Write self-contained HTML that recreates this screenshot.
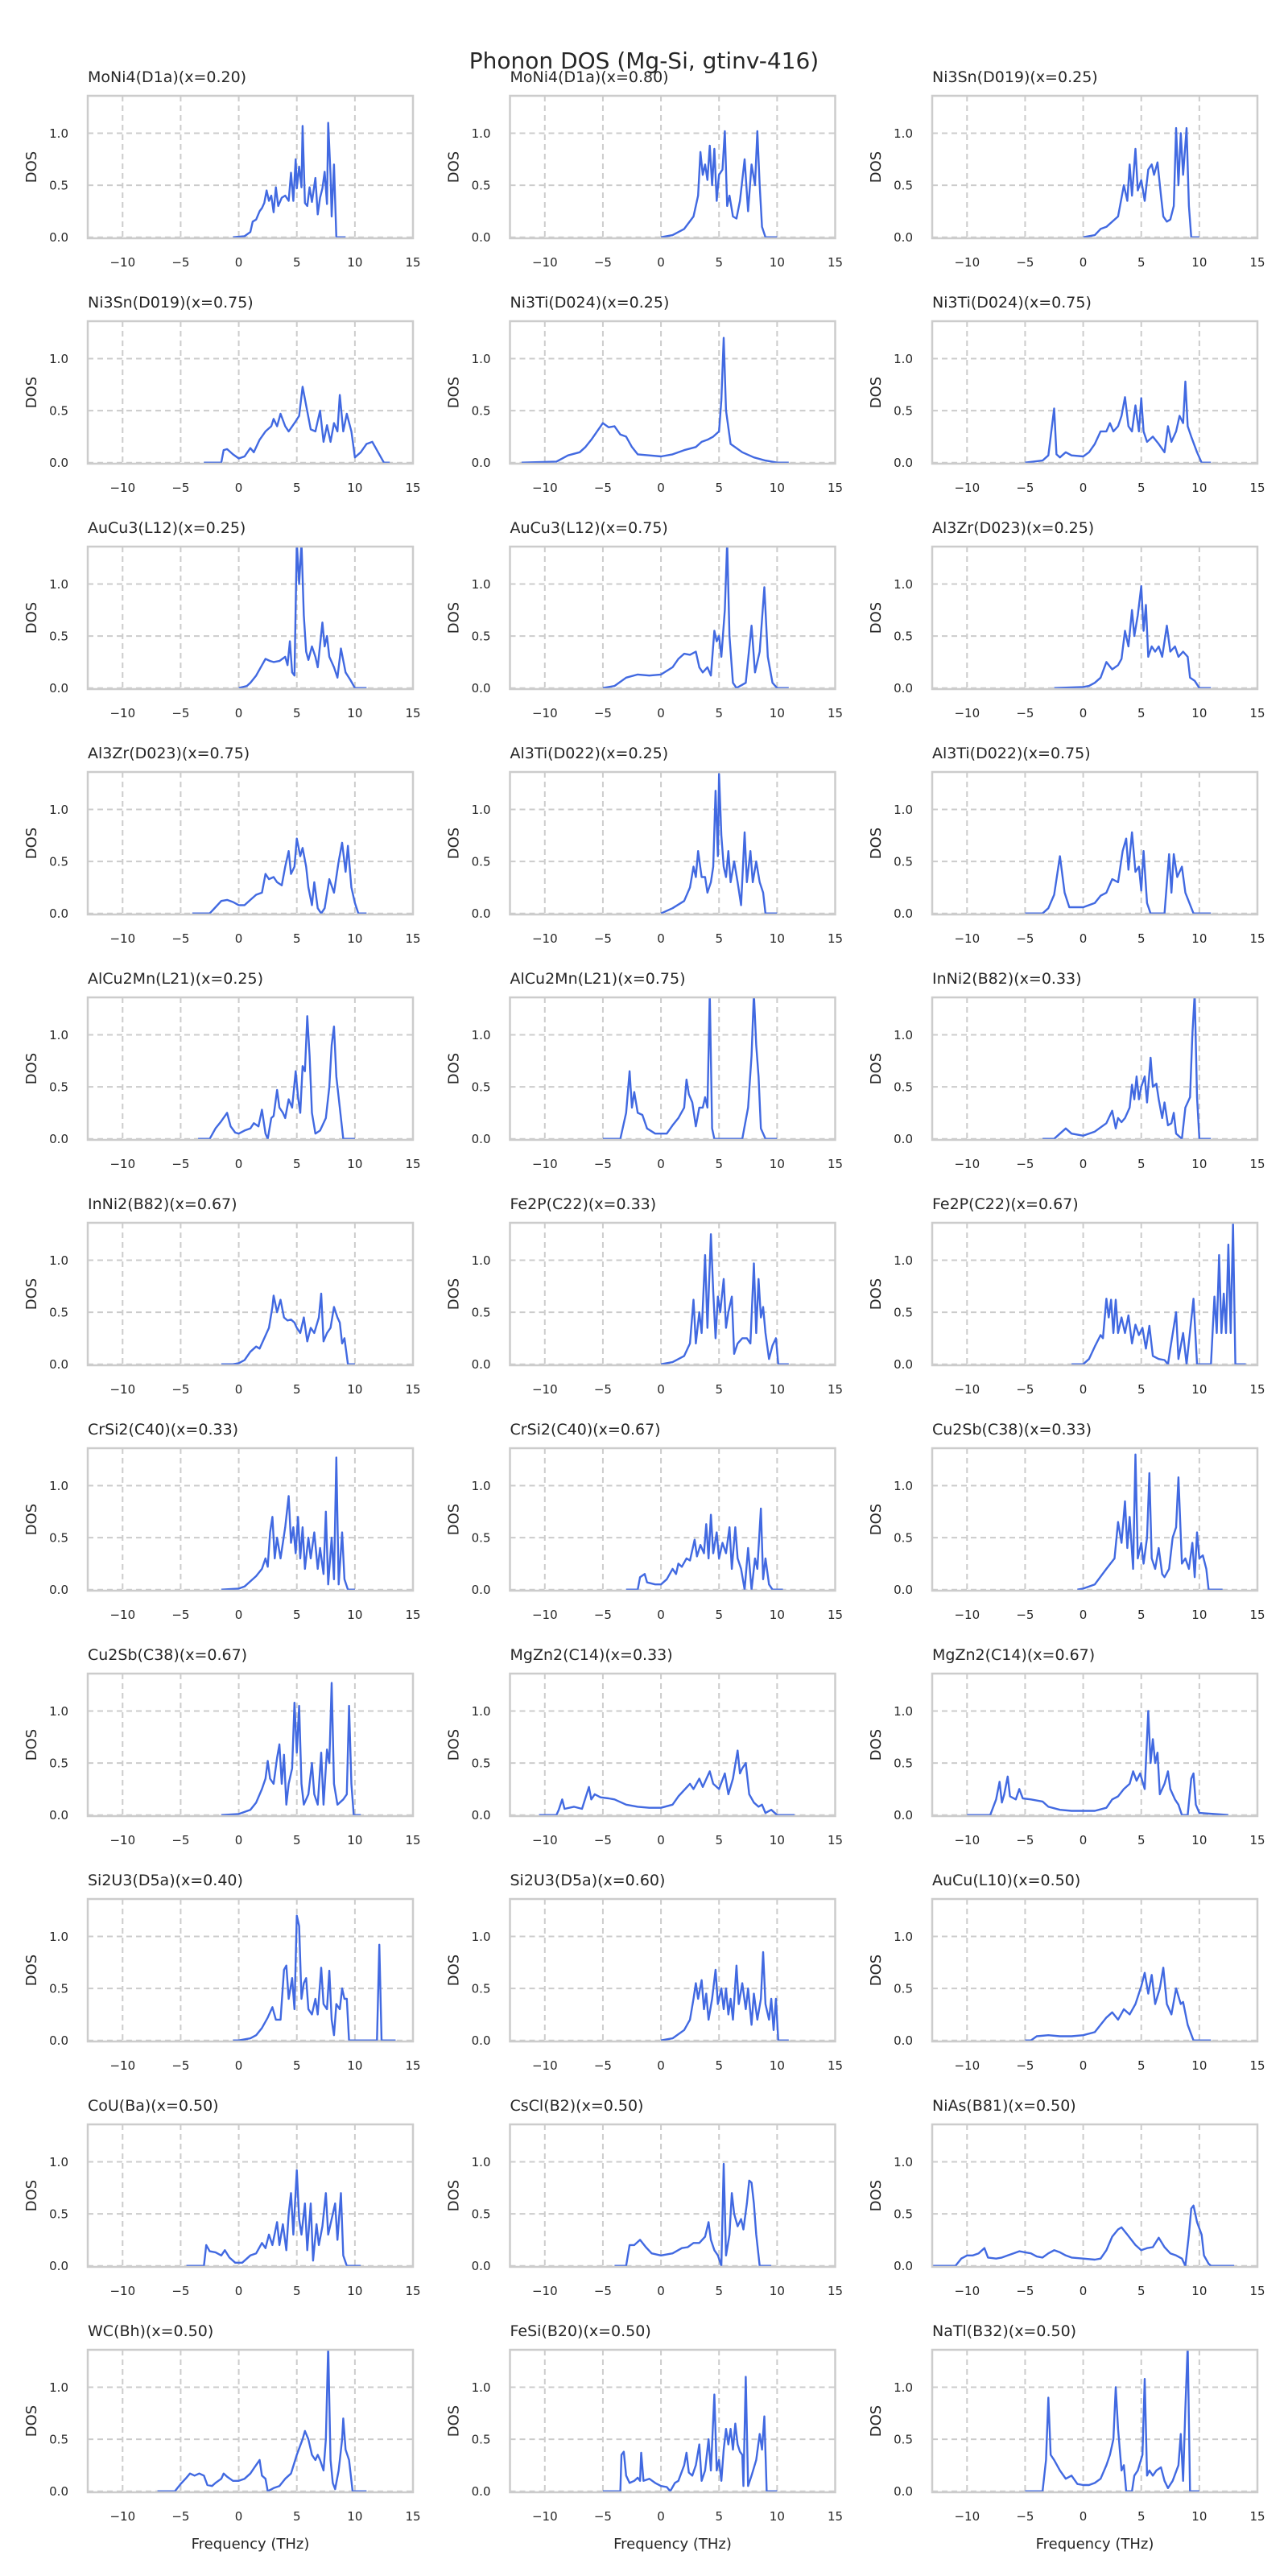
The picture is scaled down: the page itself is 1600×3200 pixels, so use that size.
<!DOCTYPE html>
<html>
<head>
<meta charset="utf-8">
<style>
  html,body{margin:0;padding:0;background:#fff;}
  svg{display:block;}
  text{font-family:"DejaVu Sans","Liberation Sans",sans-serif;fill:#262626;}
</style>
</head>
<body>
<svg id="fig" width="1600" height="3200" viewBox="0 0 1600 3200" xmlns="http://www.w3.org/2000/svg">
  <rect x="0" y="0" width="1600" height="3200" fill="#ffffff"/>
  <text x="800" y="85" font-size="28" text-anchor="middle">Phonon DOS (Mg-Si, gtinv-416)</text>
</svg>
<script>
const titles = ["MoNi4(D1a)(x=0.20)","MoNi4(D1a)(x=0.80)","Ni3Sn(D019)(x=0.25)","Ni3Sn(D019)(x=0.75)","Ni3Ti(D024)(x=0.25)","Ni3Ti(D024)(x=0.75)","AuCu3(L12)(x=0.25)","AuCu3(L12)(x=0.75)","Al3Zr(D023)(x=0.25)","Al3Zr(D023)(x=0.75)","Al3Ti(D022)(x=0.25)","Al3Ti(D022)(x=0.75)","AlCu2Mn(L21)(x=0.25)","AlCu2Mn(L21)(x=0.75)","InNi2(B82)(x=0.33)","InNi2(B82)(x=0.67)","Fe2P(C22)(x=0.33)","Fe2P(C22)(x=0.67)","CrSi2(C40)(x=0.33)","CrSi2(C40)(x=0.67)","Cu2Sb(C38)(x=0.33)","Cu2Sb(C38)(x=0.67)","MgZn2(C14)(x=0.33)","MgZn2(C14)(x=0.67)","Si2U3(D5a)(x=0.40)","Si2U3(D5a)(x=0.60)","AuCu(L10)(x=0.50)","CoU(Ba)(x=0.50)","CsCl(B2)(x=0.50)","NiAs(B81)(x=0.50)","WC(Bh)(x=0.50)","FeSi(B20)(x=0.50)","NaTl(B32)(x=0.50)"];
const xTicks = [-10,-5,0,5,10,15];
const xTickLabels = ["\u221210","\u22125","0","5","10","15"];
const yTicks = [0,0.5,1.0];
const yTickLabels = ["0.0","0.5","1.0"];
const xDomain = [-13,15];
const yDomain = [-0.01,1.36];

const p00=[[-0.5,0],[0.5,0.01],[1.0,0.05],[1.2,0.15],[1.5,0.17],[1.8,0.25],[2.0,0.28],[2.2,0.33],[2.4,0.45],[2.6,0.35],[2.8,0.40],[3.0,0.24],[3.2,0.48],[3.4,0.3],[3.7,0.38],[4.0,0.40],[4.3,0.35],[4.5,0.62],[4.7,0.35],[4.9,0.75],[5.0,0.47],[5.2,0.68],[5.4,0.48],[5.5,1.07],[5.7,0.33],[5.9,0.30],[6.1,0.48],[6.3,0.34],[6.6,0.57],[6.8,0.22],[7.0,0.38],[7.2,0.47],[7.4,0.63],[7.6,0.32],[7.7,1.1],[7.9,0.6],[8.0,0.2],[8.2,0.7],[8.4,0],[9.2,0]];
const p01=[[0,0],[1,0.02],[2,0.08],[2.8,0.2],[3.2,0.4],[3.4,0.82],[3.6,0.6],[3.8,0.7],[4.0,0.55],[4.2,0.88],[4.4,0.5],[4.6,0.85],[4.8,0.35],[5.0,0.6],[5.3,0.65],[5.5,1.02],[5.7,0.3],[5.9,0.4],[6.2,0.2],[6.5,0.18],[6.8,0.35],[7.2,0.75],[7.5,0.25],[7.8,0.7],[8.1,0.5],[8.3,1.02],[8.5,0.5],[8.7,0.1],[9.0,0],[10,0]];
const p02=[[0,0],[1,0.02],[1.5,0.08],[2,0.1],[3,0.2],[3.5,0.5],[3.8,0.35],[4.0,0.7],[4.2,0.4],[4.5,0.85],[4.7,0.45],[5.0,0.55],[5.3,0.35],[5.6,0.65],[5.9,0.7],[6.1,0.6],[6.4,0.72],[6.7,0.4],[6.9,0.2],[7.2,0.15],[7.5,0.17],[7.8,0.3],[8.0,1.05],[8.2,0.5],[8.4,1.0],[8.6,0.6],[8.9,1.05],[9.1,0.3],[9.3,0],[10,0]];
const p03=[[-3,0],[-1.5,0],[-1.3,0.12],[-1.0,0.13],[-0.5,0.08],[0,0.04],[0.5,0.06],[1.0,0.14],[1.3,0.1],[1.8,0.22],[2.3,0.3],[2.8,0.35],[3.0,0.42],[3.3,0.35],[3.6,0.47],[4.0,0.35],[4.3,0.3],[4.8,0.38],[5.2,0.45],[5.5,0.73],[5.8,0.55],[6.2,0.32],[6.6,0.3],[7.0,0.5],[7.3,0.2],[7.6,0.36],[7.9,0.2],[8.2,0.38],[8.5,0.3],[8.7,0.65],[9.0,0.3],[9.3,0.47],[9.7,0.3],[10.0,0.05],[10.5,0.1],[11,0.18],[11.5,0.2],[12,0.1],[12.5,0],[13,0]];
const p04=[[-12,0],[-9,0.01],[-8,0.07],[-7,0.1],[-6.5,0.15],[-6,0.22],[-5.5,0.3],[-5,0.38],[-4.5,0.34],[-4,0.35],[-3.5,0.27],[-3,0.25],[-2.5,0.15],[-2,0.08],[-1,0.07],[0,0.06],[1,0.08],[2,0.12],[3,0.15],[3.5,0.2],[4,0.22],[4.5,0.25],[5,0.3],[5.2,0.6],[5.4,1.2],[5.6,0.5],[6,0.18],[7,0.1],[8,0.05],[9,0.02],[10,0],[11,0]];
const p05=[[-5,0],[-3.5,0.02],[-3,0.07],[-2.5,0.52],[-2.3,0.08],[-2,0.05],[-1.5,0.1],[-1,0.07],[0,0.06],[0.5,0.1],[1,0.18],[1.5,0.3],[2,0.3],[2.3,0.38],[2.6,0.3],[3,0.35],[3.3,0.45],[3.6,0.63],[3.9,0.35],[4.2,0.3],[4.5,0.55],[4.8,0.3],[5,0.62],[5.2,0.3],[5.5,0.2],[6,0.25],[6.5,0.18],[7,0.1],[7.3,0.35],[7.6,0.2],[8,0.3],[8.3,0.45],[8.6,0.38],[8.8,0.78],[9,0.35],[9.3,0.25],[9.8,0.1],[10.2,0],[11,0]];
const p06=[[0,0],[0.7,0.02],[1,0.05],[1.5,0.12],[2.0,0.22],[2.3,0.28],[2.7,0.26],[3,0.25],[3.5,0.26],[4,0.3],[4.2,0.22],[4.4,0.45],[4.6,0.15],[4.8,0.12],[5.0,1.4],[5.2,1.0],[5.4,1.4],[5.6,0.7],[5.8,0.35],[6.0,0.27],[6.3,0.4],[6.6,0.3],[6.8,0.2],[7.2,0.63],[7.4,0.4],[7.6,0.5],[7.8,0.3],[8.2,0.2],[8.5,0.1],[8.8,0.38],[9.2,0.15],[9.6,0.08],[10,0],[11,0]];
const p07=[[-5,0],[-4,0.02],[-3,0.1],[-2,0.13],[-1,0.12],[0,0.13],[1,0.2],[1.5,0.28],[2,0.33],[2.5,0.32],[3,0.35],[3.3,0.2],[3.6,0.15],[4,0.2],[4.3,0.12],[4.6,0.55],[4.8,0.45],[5,0.5],[5.2,0.3],[5.5,0.75],[5.7,1.4],[5.9,0.5],[6.2,0.05],[6.5,0],[7.3,0.05],[7.8,0.6],[8.1,0.15],[8.5,0.35],[8.9,0.97],[9.2,0.3],[9.6,0.05],[10,0],[11,0]];
const p08=[[-2.5,0],[0,0.01],[0.5,0.02],[1,0.05],[1.5,0.1],[2,0.25],[2.5,0.18],[3,0.22],[3.3,0.28],[3.6,0.55],[3.9,0.4],[4.2,0.75],[4.4,0.5],[4.7,0.7],[5,0.98],[5.2,0.55],[5.4,0.8],[5.6,0.3],[5.9,0.4],[6.2,0.35],[6.5,0.4],[6.8,0.3],[7.2,0.6],[7.5,0.35],[7.9,0.4],[8.2,0.3],[8.6,0.35],[9,0.3],[9.2,0.1],[9.6,0.07],[10,0],[11,0]];
const p09=[[-4,0],[-2.5,0],[-2,0.06],[-1.5,0.12],[-1,0.13],[-0.5,0.11],[0,0.08],[0.5,0.08],[1,0.13],[1.5,0.18],[2,0.2],[2.3,0.38],[2.6,0.33],[3,0.35],[3.3,0.3],[3.7,0.27],[4,0.45],[4.3,0.6],[4.5,0.38],[4.8,0.45],[5,0.72],[5.3,0.55],[5.5,0.63],[5.8,0.45],[6,0.25],[6.3,0.08],[6.5,0.3],[6.8,0.05],[7.1,0],[7.4,0.05],[7.8,0.33],[8.2,0.2],[8.6,0.5],[8.9,0.68],[9.2,0.4],[9.4,0.65],[9.7,0.25],[10,0.1],[10.3,0],[11,0]];
const p10=[[0,0],[1,0.05],[2,0.12],[2.5,0.25],[2.8,0.45],[3,0.35],[3.2,0.6],[3.5,0.35],[3.8,0.35],[4,0.2],[4.3,0.3],[4.5,0.45],[4.7,1.18],[4.9,0.55],[5,1.34],[5.2,0.75],[5.4,0.45],[5.6,0.35],[5.8,0.6],[6,0.3],[6.3,0.5],[6.6,0.3],[6.9,0.08],[7.2,0.78],[7.4,0.3],[7.7,0.6],[7.9,0.3],[8.2,0.5],[8.5,0.3],[8.8,0.2],[9,0],[10,0]];
const p11=[[-5,0],[-3.5,0],[-3,0.05],[-2.5,0.18],[-2,0.55],[-1.6,0.2],[-1.2,0.06],[0,0.06],[1,0.1],[1.5,0.17],[2,0.2],[2.5,0.33],[3,0.3],[3.4,0.6],[3.7,0.72],[3.9,0.42],[4.2,0.78],[4.5,0.4],[4.8,0.45],[5,0.22],[5.2,0.6],[5.5,0.1],[5.8,0],[7,0],[7.4,0.57],[7.6,0.2],[7.8,0.57],[8.1,0.35],[8.5,0.45],[8.8,0.2],[9.5,0],[10,0],[11,0]];
const p12=[[-3.5,0],[-2.5,0],[-2,0.1],[-1.5,0.17],[-1,0.25],[-0.7,0.12],[-0.3,0.06],[0,0.05],[0.5,0.08],[1,0.1],[1.3,0.15],[1.7,0.12],[2,0.28],[2.3,0.05],[2.5,0],[2.8,0.2],[3,0.22],[3.3,0.47],[3.5,0.3],[3.8,0.25],[4,0.2],[4.3,0.38],[4.6,0.3],[4.9,0.65],[5.1,0.4],[5.3,0.25],[5.5,0.7],[5.7,0.65],[5.9,1.18],[6.1,0.8],[6.3,0.25],[6.6,0.05],[7,0.08],[7.5,0.2],[7.8,0.5],[8.0,0.9],[8.2,1.08],[8.4,0.6],[8.7,0.3],[9,0],[10,0]];
const p13=[[-5,0],[-3.5,0],[-3,0.25],[-2.7,0.65],[-2.5,0.3],[-2.3,0.45],[-2,0.25],[-1.6,0.23],[-1.2,0.1],[-0.5,0.05],[0.5,0.05],[1,0.13],[1.5,0.2],[2,0.3],[2.2,0.57],[2.4,0.43],[2.7,0.35],[3,0.12],[3.3,0.3],[3.6,0.3],[3.8,0.4],[4.0,0.3],[4.2,1.4],[4.4,0.1],[4.6,0],[7,0],[7.5,0.3],[7.8,0.8],[8.0,1.4],[8.2,0.9],[8.4,0.6],[8.6,0.1],[9,0],[10,0]];
const p14=[[-3.5,0],[-2.5,0],[-2,0.05],[-1.5,0.1],[-1,0.05],[0,0.03],[1,0.07],[2,0.15],[2.5,0.27],[2.8,0.1],[3,0.2],[3.3,0.16],[3.6,0.2],[4,0.3],[4.2,0.52],[4.4,0.38],[4.6,0.6],[4.8,0.38],[5,0.5],[5.3,0.6],[5.5,0.35],[5.8,0.78],[6,0.5],[6.3,0.53],[6.5,0.38],[6.8,0.2],[7,0.35],[7.3,0.13],[7.6,0.15],[7.8,0.25],[8,0.05],[8.5,0],[8.8,0.3],[9.2,0.4],[9.4,1.0],[9.6,1.4],[9.8,0.4],[10,0],[11,0]];
const p15=[[-1.5,0],[-0.5,0],[0,0.01],[0.5,0.04],[1,0.12],[1.5,0.17],[1.8,0.15],[2.2,0.25],[2.6,0.35],[2.9,0.55],[3.0,0.66],[3.3,0.5],[3.6,0.62],[3.9,0.45],[4.2,0.42],[4.5,0.43],[4.8,0.4],[5,0.35],[5.3,0.3],[5.6,0.45],[5.9,0.22],[6.2,0.35],[6.5,0.3],[6.9,0.45],[7.1,0.68],[7.3,0.22],[7.6,0.3],[7.9,0.35],[8.2,0.55],[8.5,0.45],[8.7,0.4],[8.9,0.2],[9.1,0.25],[9.4,0],[10,0]];
const p16=[[0,0],[1,0.02],[2,0.08],[2.5,0.2],[2.8,0.62],[3,0.2],[3.3,0.5],[3.5,0.3],[3.8,1.05],[4,0.35],[4.3,1.25],[4.5,0.7],[4.7,0.25],[4.9,0.65],[5.1,0.5],[5.4,0.82],[5.6,0.35],[5.8,0.5],[6.1,0.65],[6.3,0.1],[6.6,0.2],[7,0.25],[7.4,0.25],[7.7,0.2],[8,0.97],[8.2,0.3],[8.4,0.82],[8.6,0.45],[8.8,0.55],[9,0.3],[9.3,0.05],[9.6,0.18],[9.9,0.25],[10.1,0],[11,0]];
const p17=[[-1,0],[0,0],[0.5,0.05],[1,0.17],[1.5,0.28],[1.7,0.25],[2.0,0.63],[2.2,0.45],[2.4,0.62],[2.6,0.3],[2.8,0.62],[3,0.3],[3.3,0.45],[3.6,0.3],[3.9,0.47],[4.2,0.2],[4.5,0.38],[4.8,0.28],[5.1,0.35],[5.4,0.15],[5.7,0.37],[6,0.08],[6.5,0.05],[7,0.04],[7.3,0],[7.5,0.15],[8,0.5],[8.2,0.05],[8.6,0.3],[8.9,0],[9.5,0.63],[9.8,0],[11,0],[11.3,0.65],[11.5,0.3],[11.7,1.05],[11.9,0.3],[12.1,0.68],[12.3,0.3],[12.5,1.15],[12.7,0.3],[12.9,1.35],[13.1,0],[14,0]];
const p18=[[-1.5,0],[0,0.01],[0.5,0.03],[1,0.08],[1.5,0.13],[2,0.2],[2.3,0.3],[2.5,0.22],[2.7,0.55],[2.9,0.7],[3.1,0.3],[3.3,0.5],[3.6,0.3],[4,0.6],[4.3,0.9],[4.5,0.45],[4.7,0.6],[4.9,0.35],[5.1,0.7],[5.3,0.3],[5.5,0.6],[5.7,0.2],[6,0.5],[6.2,0.3],[6.5,0.55],[6.8,0.2],[7.0,0.4],[7.3,0.15],[7.5,0.75],[7.7,0.05],[8,0.5],[8.2,0.1],[8.4,1.27],[8.6,0.05],[8.9,0.55],[9.1,0.1],[9.4,0],[10,0]];
const p19=[[-3,0],[-2,0],[-1.8,0.12],[-1.4,0.15],[-1.2,0.07],[-0.5,0.05],[0,0.05],[0.5,0.1],[1,0.2],[1.3,0.15],[1.5,0.25],[1.8,0.22],[2.2,0.3],[2.5,0.28],[2.9,0.48],[3.1,0.32],[3.4,0.43],[3.7,0.35],[3.9,0.63],[4.1,0.3],[4.3,0.72],[4.5,0.35],[4.8,0.55],[5,0.3],[5.3,0.45],[5.6,0.35],[5.9,0.6],[6.1,0.2],[6.4,0.6],[6.6,0.3],[6.9,0.2],[7.2,0],[7.5,0.4],[7.8,0],[8.1,0.3],[8.3,0.2],[8.6,0.78],[8.8,0.1],[9.0,0.3],[9.3,0.05],[9.6,0],[10.5,0]];
const p20=[[-0.5,0],[0,0.01],[1,0.05],[2,0.2],[2.7,0.3],[3,0.65],[3.3,0.45],[3.6,0.85],[3.8,0.4],[4,0.7],[4.3,0.2],[4.5,1.3],[4.7,0.3],[5,0.45],[5.2,0.25],[5.5,0.5],[5.7,1.12],[5.9,0.3],[6.2,0.2],[6.5,0.4],[6.8,0.15],[7,0.12],[7.4,0.2],[7.7,0.5],[8,0.6],[8.2,1.08],[8.5,0.25],[8.8,0.3],[9.1,0.2],[9.4,0.45],[9.6,0.12],[9.8,0.55],[10,0.3],[10.3,0.33],[10.6,0.2],[10.8,0],[12,0]];
const p21=[[-1.5,0],[0,0.01],[1,0.05],[1.5,0.12],[2,0.25],[2.3,0.35],[2.5,0.52],[2.7,0.35],[3,0.3],[3.3,0.55],[3.5,0.68],[3.7,0.3],[3.9,0.58],[4.1,0.1],[4.3,0.3],[4.6,0.45],[4.8,1.08],[5,0.6],[5.2,1.05],[5.4,0.3],[5.6,0.1],[6,0.2],[6.3,0.5],[6.5,0.2],[6.8,0.1],[7.1,0.6],[7.3,0.1],[7.6,0.63],[7.8,0.5],[8.0,1.27],[8.2,0.3],[8.5,0.1],[9,0.15],[9.3,0.2],[9.5,1.05],[9.7,0.3],[9.9,0],[10.5,0]];
const p22=[[-10.5,0],[-9,0],[-8.8,0.05],[-8.5,0.15],[-8.3,0.06],[-7.5,0.08],[-6.8,0.06],[-6.2,0.27],[-6,0.15],[-5.7,0.2],[-5.2,0.17],[-4.5,0.16],[-4,0.15],[-3,0.1],[-2,0.08],[-1,0.07],[0,0.07],[1,0.1],[1.5,0.18],[2.5,0.3],[2.8,0.25],[3.3,0.35],[3.6,0.27],[4.2,0.42],[4.5,0.3],[5,0.25],[5.5,0.4],[5.8,0.2],[6.2,0.35],[6.6,0.62],[6.8,0.4],[7,0.45],[7.3,0.5],[7.6,0.2],[8,0.12],[8.4,0.08],[8.7,0.1],[9,0.02],[9.5,0.05],[10,0],[11.5,0]];
const p23=[[-10,0],[-8,0],[-7.5,0.15],[-7.2,0.32],[-7,0.12],[-6.8,0.2],[-6.5,0.37],[-6.3,0.18],[-5.8,0.15],[-5.5,0.25],[-5.2,0.16],[-4.5,0.15],[-3.5,0.13],[-3,0.08],[-2,0.05],[-1,0.04],[0,0.04],[1,0.04],[2,0.07],[2.5,0.15],[3,0.18],[3.5,0.25],[4,0.3],[4.3,0.42],[4.6,0.33],[4.9,0.4],[5.3,0.25],[5.6,1.0],[5.8,0.5],[6,0.73],[6.2,0.5],[6.4,0.6],[6.6,0.2],[7,0.3],[7.3,0.42],[7.5,0.25],[7.9,0.15],[8.2,0.1],[8.5,0],[9,0],[9.3,0.35],[9.5,0.4],[9.7,0.1],[10,0.02],[12.5,0]];
const p24=[[-0.5,0],[0,0],[1,0.02],[1.5,0.05],[2,0.12],[2.5,0.22],[2.9,0.32],[3.2,0.2],[3.6,0.2],[3.9,0.68],[4.1,0.72],[4.3,0.4],[4.6,0.6],[4.8,0.3],[5,1.2],[5.2,1.1],[5.4,0.4],[5.6,0.55],[5.8,0.6],[6,0.3],[6.3,0.25],[6.6,0.4],[6.8,0.25],[7.1,0.7],[7.3,0.35],[7.6,0.3],[7.8,0.67],[8.0,0.2],[8.2,0.05],[8.4,0.35],[8.7,0.3],[8.9,0.5],[9.1,0.4],[9.3,0.4],[9.5,0],[11.9,0],[12.1,0.92],[12.3,0],[13.5,0]];
const p25=[[0,0],[1,0.02],[2,0.1],[2.5,0.2],[2.8,0.4],[3,0.55],[3.2,0.4],[3.5,0.58],[3.7,0.3],[3.9,0.45],[4.1,0.2],[4.4,0.4],[4.7,0.68],[4.9,0.35],[5.2,0.5],[5.4,0.3],[5.6,0.5],[5.8,0.25],[6,0.4],[6.2,0.2],[6.5,0.72],[6.7,0.35],[7,0.55],[7.3,0.3],[7.5,0.5],[7.8,0.15],[8,0.45],[8.3,0.2],[8.6,0.4],[8.8,0.85],[9,0.35],[9.3,0.2],[9.5,0.4],[9.7,0.1],[9.9,0.4],[10.1,0],[11,0]];
const p26=[[-5,0],[-4.5,0],[-4,0.04],[-3,0.05],[-2,0.04],[-1,0.04],[0,0.05],[1,0.08],[1.5,0.15],[2,0.22],[2.5,0.27],[3,0.2],[3.5,0.3],[4,0.25],[4.5,0.35],[5,0.52],[5.3,0.65],[5.6,0.45],[5.9,0.63],[6.2,0.35],[6.6,0.5],[6.9,0.7],[7.2,0.35],[7.6,0.25],[8,0.5],[8.4,0.35],[8.6,0.37],[9,0.15],[9.5,0],[11,0]];
const p27=[[-4.5,0],[-3,0],[-2.8,0.2],[-2.5,0.14],[-2,0.13],[-1.5,0.1],[-1.2,0.15],[-0.8,0.08],[-0.3,0.03],[0.3,0.03],[1,0.1],[1.5,0.12],[2,0.22],[2.3,0.17],[2.6,0.3],[2.9,0.2],[3.3,0.42],[3.5,0.2],[3.8,0.4],[4.1,0.15],[4.3,0.5],[4.5,0.7],[4.7,0.3],[5,0.92],[5.2,0.45],[5.4,0.3],[5.7,0.6],[5.9,0.15],[6.2,0.6],[6.4,0.05],[6.7,0.4],[6.9,0.2],[7.2,0.38],[7.5,0.7],[7.7,0.3],[8,0.45],[8.3,0.6],[8.5,0.25],[8.8,0.7],[9,0.1],[9.3,0],[10.5,0]];
const p28=[[-4,0],[-3,0],[-2.7,0.2],[-2.3,0.2],[-1.8,0.25],[-1.3,0.18],[-0.8,0.12],[0,0.1],[1,0.12],[1.8,0.17],[2.3,0.18],[2.8,0.22],[3.3,0.22],[3.8,0.28],[4.1,0.42],[4.3,0.25],[4.6,0.15],[4.9,0.1],[5.2,0],[5.4,0.98],[5.6,0.1],[5.9,0.3],[6.1,0.7],[6.3,0.5],[6.6,0.38],[6.9,0.45],[7.1,0.35],[7.4,0.6],[7.6,0.82],[7.8,0.8],[8.0,0.6],[8.2,0.3],[8.5,0],[9.5,0]];
const p29=[[-13,0],[-11,0],[-10.5,0.07],[-10,0.1],[-9.5,0.1],[-9,0.12],[-8.5,0.17],[-8.2,0.08],[-7.5,0.07],[-7,0.08],[-6.5,0.1],[-6,0.12],[-5.5,0.14],[-5,0.13],[-4.5,0.12],[-4,0.09],[-3.5,0.08],[-3,0.12],[-2.5,0.15],[-2,0.13],[-1.5,0.1],[-1,0.08],[0,0.07],[1,0.06],[1.5,0.07],[2,0.15],[2.5,0.28],[3,0.35],[3.3,0.37],[3.8,0.3],[4.5,0.2],[5,0.15],[5.5,0.17],[6,0.18],[6.5,0.27],[7,0.18],[7.5,0.12],[8,0.1],[8.5,0.07],[8.8,0],[9.1,0.3],[9.3,0.55],[9.5,0.58],[9.8,0.42],[10.2,0.3],[10.4,0.1],[10.8,0.02],[11,0],[13,0]];
const p30=[[-7,0],[-5.5,0],[-5,0.07],[-4.5,0.13],[-4.2,0.17],[-3.8,0.15],[-3.4,0.17],[-3,0.15],[-2.7,0.06],[-2.3,0.05],[-2,0.08],[-1.5,0.12],[-1.3,0.17],[-1,0.14],[-0.5,0.1],[0,0.1],[0.5,0.12],[1,0.17],[1.3,0.22],[1.8,0.3],[2,0.15],[2.3,0.12],[2.5,0],[3,0.03],[3.5,0.05],[4,0.12],[4.5,0.17],[5,0.35],[5.5,0.5],[5.7,0.58],[6,0.5],[6.3,0.35],[6.6,0.3],[6.8,0.35],[7.0,0.3],[7.3,0.2],[7.5,0.5],[7.7,1.4],[7.9,0.3],[8.1,0.08],[8.3,0.02],[8.6,0.2],[8.9,0.5],[9.0,0.7],[9.2,0.4],[9.5,0.3],[9.8,0],[11,0]];
const p31=[[-5,0],[-3.5,0],[-3.4,0.35],[-3.2,0.38],[-3,0.15],[-2.7,0.08],[-2.3,0.1],[-2,0.13],[-1.8,0.1],[-1.7,0.37],[-1.5,0.1],[-1,0.12],[-0.5,0.08],[0,0.05],[0.5,0.04],[0.8,0],[1.2,0.08],[1.5,0.1],[2,0.25],[2.2,0.37],[2.4,0.18],[2.7,0.15],[3,0.25],[3.3,0.45],[3.5,0.1],[3.8,0.2],[4.1,0.5],[4.3,0.2],[4.6,0.93],[4.8,0.2],[5,0.3],[5.2,0.1],[5.4,0.4],[5.6,0.6],[5.8,0.45],[6,0.6],[6.2,0.4],[6.4,0.65],[6.6,0.45],[6.8,0.38],[7,0.35],[7.1,0.05],[7.3,1.1],[7.5,0.05],[7.8,0.15],[8.2,0.3],[8.5,0.55],[8.7,0.4],[8.9,0.72],[9.1,0],[10,0]];
const p32=[[-5,0],[-3.5,0],[-3.2,0.3],[-3,0.9],[-2.8,0.35],[-2.5,0.3],[-2,0.2],[-1.5,0.12],[-1,0.15],[-0.5,0.07],[0,0.06],[0.5,0.06],[1,0.08],[1.5,0.12],[2,0.25],[2.3,0.35],[2.6,0.5],[2.8,1.0],[3.0,0.6],[3.3,0.2],[3.5,0.25],[3.7,0],[4.2,0],[4.4,0.15],[4.7,0.2],[5.1,0.35],[5.3,1.08],[5.5,0.15],[5.7,0.2],[6,0.15],[6.3,0.2],[6.7,0.23],[7,0.1],[7.3,0.03],[7.7,0.1],[8.2,0.25],[8.4,0.55],[8.6,0.1],[8.8,0.8],[9,1.4],[9.2,0],[10,0]];

const panels = [p00,p01,p02,p03,p04,p05,p06,p07,p08,p09,p10,p11,p12,p13,p14,p15,p16,p17,p18,p19,p20,p21,p22,p23,p24,p25,p26,p27,p28,p29,p30,p31,p32];

const NS = "http://www.w3.org/2000/svg";
const svg = document.getElementById("fig");
const COLS = 3, AX_W = 404, AX_H = 177, LEFT0 = 109, COL_PITCH = 524.5, TOP0 = 119, ROW_PITCH = 280;
const nRows = Math.ceil(titles.length / COLS);

function mk(tag, attrs, parent) {
  const e = document.createElementNS(NS, tag);
  for (const k in attrs) e.setAttribute(k, attrs[k]);
  parent.appendChild(e);
  return e;
}

titles.forEach((title, i) => {
  const r = Math.floor(i / COLS), c = i % COLS;
  const L = LEFT0 + c * COL_PITCH, T = TOP0 + r * ROW_PITCH;
  const sx = f => L + (f - xDomain[0]) / (xDomain[1] - xDomain[0]) * AX_W;
  const sy = v => T + AX_H - (v - yDomain[0]) / (yDomain[1] - yDomain[0]) * AX_H;

  const g = mk("g", {}, svg);
  
  

  const clip = mk("clipPath", {id: "clip" + i}, g);
  mk("rect", {x: L, y: T, width: AX_W, height: AX_H}, clip);

  // grid
  xTicks.forEach(t => {
    const x = sx(t);
    const ln = mk("line", {x1: x, x2: x, y1: T, y2: T + AX_H, stroke: "#cccccc", "stroke-width": 2, "stroke-dasharray": "7,5"}, g);
    
    
  });
  yTicks.forEach(t => {
    const y = sy(t);
    const ln = mk("line", {x1: L, x2: L + AX_W, y1: y, y2: y, stroke: "#cccccc", "stroke-width": 2, "stroke-dasharray": "7,5"}, g);
    
    
  });

  // series line
  const pts = panels[i].map(p => sx(p[0]).toFixed(1) + "," + sy(p[1]).toFixed(1)).join(" ");
  const pl = mk("polyline", {points: pts, fill: "none", stroke: "#4169e1", "stroke-width": 2.4, "stroke-linejoin": "round", "clip-path": "url(#clip" + i + ")"}, g);
  
  

  // frame
  const fr = mk("rect", {x: L, y: T, width: AX_W, height: AX_H, fill: "none", stroke: "#cccccc", "stroke-width": 2.5}, g);
  
  

  // title
  const tt = mk("text", {x: L, y: T - 17, "font-size": 19}, g);
  tt.textContent = title;
  
  

  // x tick labels
  xTicks.forEach((t, k) => {
    const tx = mk("text", {x: sx(t), y: T + AX_H + 35, "font-size": 15, "text-anchor": "middle"}, g);
    tx.textContent = xTickLabels[k];
    
    
  });
  // y tick labels
  yTicks.forEach((t, k) => {
    const ty = mk("text", {x: L - 24, y: sy(t) + 5.5, "font-size": 15, "text-anchor": "end"}, g);
    ty.textContent = yTickLabels[k];
    
    
  });
  // y axis title
  const yl = mk("text", {x: L - 64, y: T + AX_H / 2, "font-size": 18, "text-anchor": "middle", transform: "rotate(-90 " + (L - 64) + " " + (T + AX_H / 2) + ")"}, g);
  yl.textContent = "DOS";
  
  

  if (r === nRows - 1) {
    const xl = mk("text", {x: L + AX_W / 2, y: T + AX_H + 70, "font-size": 18, "text-anchor": "middle"}, g);
    xl.textContent = "Frequency (THz)";
    
    
  }
});
</script>
</body>
</html>
